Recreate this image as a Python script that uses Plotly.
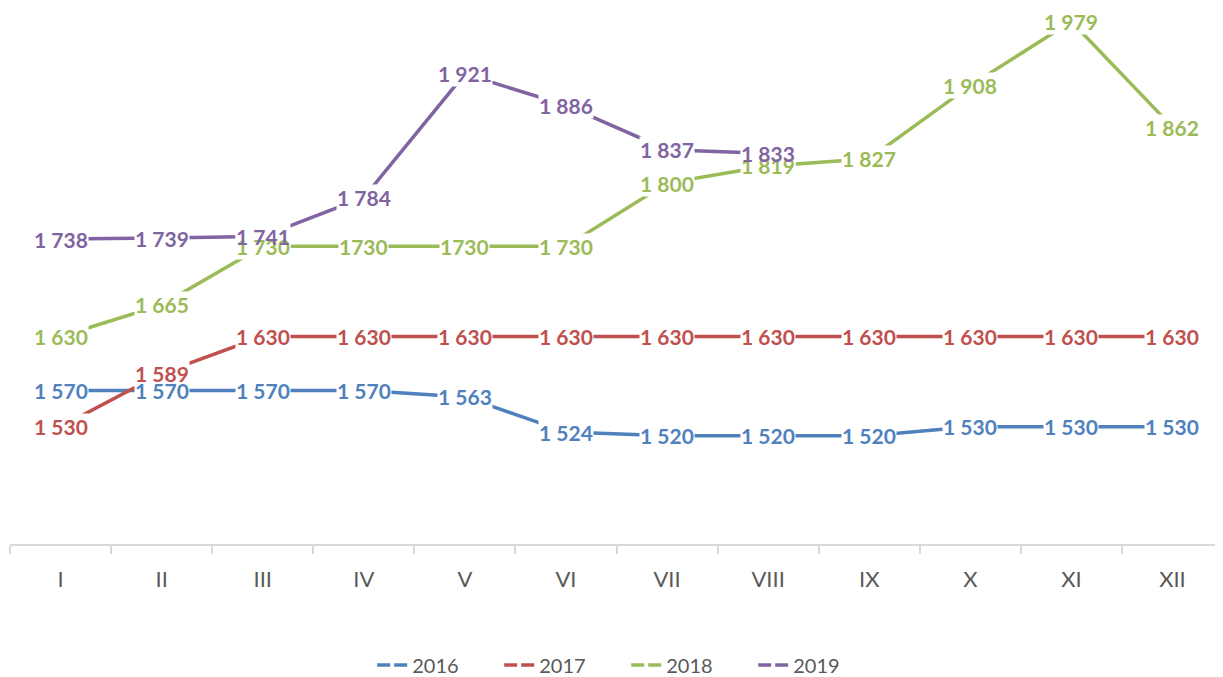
import plotly.graph_objects as go

months = ["I", "II", "III", "IV", "V", "VI", "VII", "VIII", "IX", "X", "XI", "XII"]

y2016 = [1570, 1570, 1570, 1570, 1563, 1524, 1520, 1520, 1520, 1530, 1530, 1530]
y2017 = [1530, 1589, 1630, 1630, 1630, 1630, 1630, 1630, 1630, 1630, 1630, 1630]
y2018 = [1630, 1665, 1730, 1730, 1730, 1730, 1800, 1819, 1827, 1908, 1979, 1862]
y2019 = [1738, 1739, 1741, 1784, 1921, 1886, 1837, 1833]


def fmt(v):
    return f"{v:,}".replace(",", " ")


labels_2016 = [fmt(v) for v in y2016]
labels_2017 = [fmt(v) for v in y2017]
labels_2018 = ["1 630", "1 665", "1 730", "1730", "1730", "1 730",
               "1 800", "1 819", "1 827", "1 908", "1 979", "1 862"]
labels_2019 = [fmt(v) for v in y2019]

series = [
    ("2016", y2016, labels_2016, "#4F81BD"),
    ("2017", y2017, labels_2017, "#C0504D"),
    ("2018", y2018, labels_2018, "#9BBB59"),
    ("2019", y2019, labels_2019, "#8064A2"),
]

fig = go.Figure()

for name, ys, labs, color in series:
    fig.add_trace(go.Scatter(
        x=months[:len(ys)], y=ys, mode="lines", name=name,
        line=dict(color=color, width=3.5), showlegend=False,
        hoverinfo="skip"))

# legend-only entries with a dashed symbol
for name, ys, labs, color in series:
    fig.add_trace(go.Scatter(
        x=[None], y=[None], mode="lines", name=name,
        line=dict(color=color, width=3.5, dash="13px,4px")))

label_font = "Lato, 'Open Sans', sans-serif"
# white boxes that cut the lines under the labels
for name, ys, labs, color in series:
    for m, v, t in zip(months, ys, labs):
        fig.add_annotation(x=m, y=v, text=f"<b>{t}</b>", showarrow=False,
                           xanchor="center", yanchor="middle",
                           font=dict(family=label_font, size=21, color="white"),
                           bgcolor="white", borderpad=0)
# coloured label text on top
for name, ys, labs, color in series:
    for m, v, t in zip(months, ys, labs):
        fig.add_annotation(x=m, y=v, text=f"<b>{t}</b>", showarrow=False,
                           xanchor="center", yanchor="middle",
                           font=dict(family=label_font, size=21, color=color))

fig.update_layout(
    width=1215, height=669,
    margin=dict(l=2, r=0, t=0, b=133, autoexpand=False),
    paper_bgcolor="white", plot_bgcolor="white",
    font=dict(family=label_font, color="#595959"),
    legend=dict(orientation="h", x=0.508, xanchor="center",
                y=-0.2257, yanchor="middle",
                font=dict(size=20, color="#595959"),
                entrywidth=82, entrywidthmode="pixels",
                bgcolor="rgba(0,0,0,0)"),
    xaxis=dict(type="category", categoryorder="array", categoryarray=months,
               range=[-0.5, 11.5], showgrid=False, zeroline=False,
               showline=True, linecolor="#d9d9d9", linewidth=1.5,
               ticks="outside", tickson="boundaries", ticklen=8,
               tickcolor="#d9d9d9", tickwidth=1.5,
               ticklabelstandoff=15,
               tickfont=dict(size=22, color="#595959")),
    yaxis=dict(range=[1400, 1994], visible=False, showgrid=False,
               zeroline=False),
)

fig.write_html("out.html")
